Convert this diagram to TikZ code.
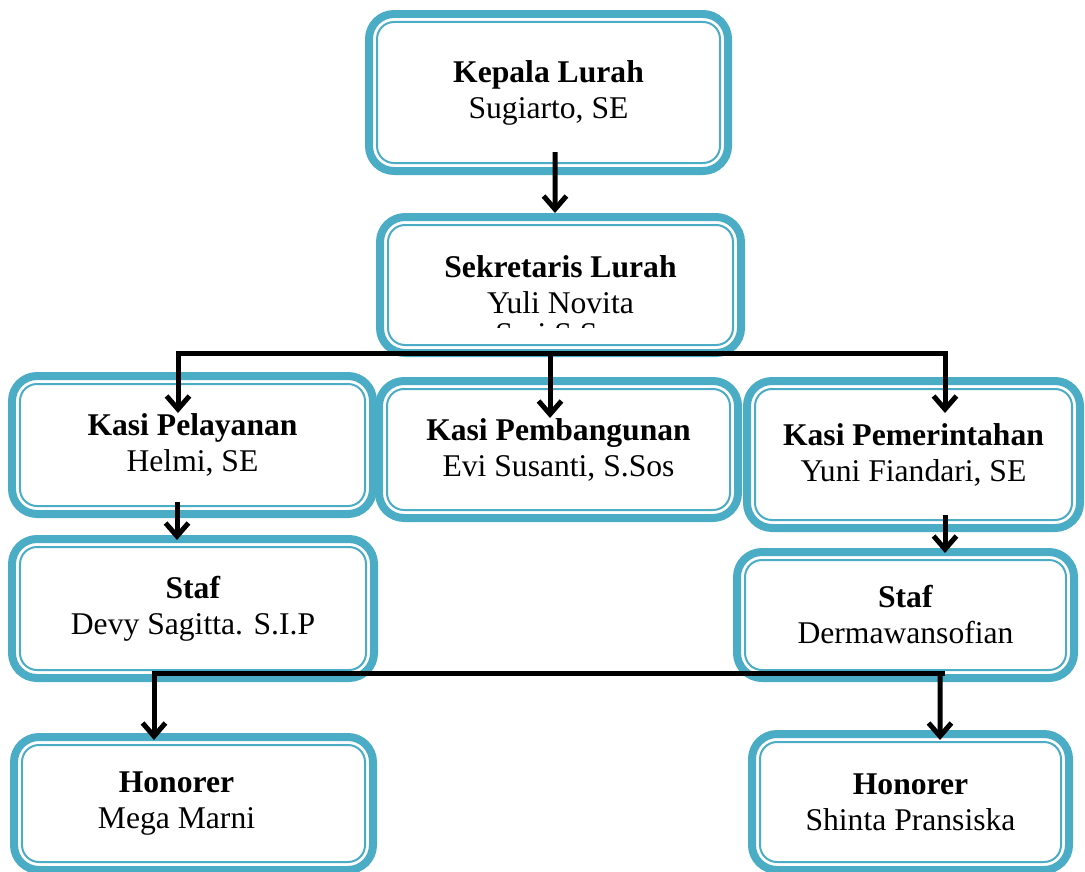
\documentclass[tikz,border=0pt]{standalone}
\usepackage{fontspec}
\setmainfont{Liberation Serif}
\usepackage{xcolor}
\usetikzlibrary{arrows.meta, calc}
\definecolor{boxteal}{RGB}{75, 172, 198}

\begin{document}
\begin{tikzpicture}[
    x=0.02cm, y=-0.02cm,
    >={Straight Barb[length=7.5pt, width=13pt]},
    orgbox/.style 2 args={draw=boxteal, fill=white, line width=0.16cm, rounded corners=0.5cm,
        minimum width=#1*0.02cm, minimum height=#2*0.02cm, inner sep=0pt, outer sep=0pt,
        align=center, font=\fontsize{18}{20.5}\selectfont,
        path picture={\draw[boxteal, line width=0.04cm, rounded corners=0.34cm]
            ([shift={(0.16cm,0.16cm)}]path picture bounding box.south west) rectangle
            ([shift={(-0.16cm,-0.16cm)}]path picture bounding box.north east);}},
    arrow/.style={->, line width=0.1cm},
    busline/.style={line width=0.1cm}
]
    \useasboundingbox (0,0) rectangle (1085,872);

    % Nodes - top
    \node[orgbox={359}{157}] (kepala) at (548.5,92.5) {\textbf{Kepala Lurah}\\Sugiarto, SE};
    \node[orgbox={361}{136}] (sekretaris) at (560.5,285) {\textbf{Sekretaris Lurah}\\Yuli Novita};
    \begin{scope}
        \clip (380,300) rectangle (741,327);
        \node[font=\fontsize{18}{20.5}\selectfont, anchor=base] (sekretarisnama) at (560.5,344) {Sari S.Sos};
    \end{scope}

    % Nodes - kasi row
    \node[orgbox={361}{138}] (pelayanan) at (192.5,445) {\textbf{Kasi Pelayanan}\\Helmi, SE};
    \node[orgbox={359}{137}] (pembangunan) at (558.5,449.5) {\textbf{Kasi Pembangunan}\\Evi Susanti, S.Sos};
    \node[orgbox={333}{147}] (pemerintahan) at (913.5,454.5) {\textbf{Kasi Pemerintahan}\\ Yuni Fiandari, SE};

    % Nodes - staf and honorer
    \node[orgbox={362}{139}] (stafkiri) at (193,608.5) {\textbf{Staf}\\Devy Sagitta. S.I.P};
    \node[orgbox={337}{126}] (stafkanan) at (905.5,615) {\textbf{Staf}\\Dermawansofian};
    \node[orgbox={359}{133}] (honorerkiri) at (193.5,803.5) {\textbf{Honorer}\hspace*{0.68cm}\\Mega Marni\hspace*{0.68cm}};
    \node[orgbox={317}{136}] (honorerkanan) at (910.5,802) {\textbf{Honorer}\\Shinta Pransiska};

    % Arrows
    \draw[arrow] ($(kepala.south)+(6.5,-19)$) -- ($(sekretaris.north)+(-5.5,-4)$);
    \draw[busline, <->] ($(pelayanan.north)+(-14.5,37)$) |- ($(pemerintahan.north)+(31.5,-28)$) -- ($(pemerintahan.north)+(31.5,32)$);
    \draw[arrow] ($(sekretaris.south)+(-10.5,0)$) -- ($(pembangunan.north)+(-8.5,37)$);
    \draw[arrow] ($(pelayanan.south)+(-15.5,-12)$) -- ($(stafkiri.north)+(-16,1)$);
    \draw[arrow] ($(pemerintahan.south)+(31.5,-13)$) -- ($(stafkanan.north)+(39.5,1)$);

    \coordinate (bawahkiri) at (152,673);
    \coordinate (bawahkanan) at (945,673);
    \draw[busline] (bawahkiri) -- (bawahkanan);
    \draw[arrow] ($(bawahkiri)+(2,0)$) -- ($(honorerkiri.north)+(-39.5,3)$);
    \draw[arrow] ($(bawahkanan)+(-5,0)$) -- ($(honorerkanan.north)+(29.5,6)$);
\end{tikzpicture}
\end{document}
